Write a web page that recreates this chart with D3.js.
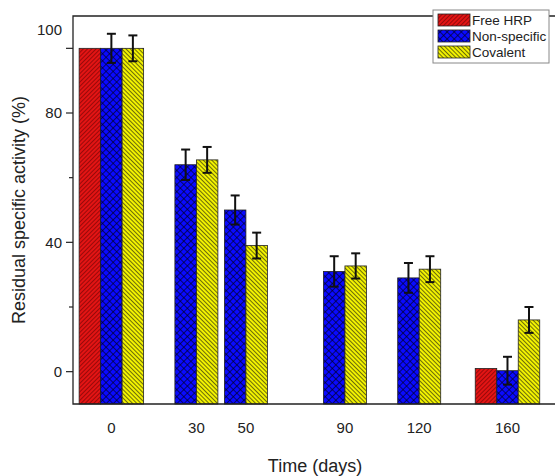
<!DOCTYPE html>
<html lang="en">
<head>
<meta charset="UTF-8">
<title>Residual specific activity</title>
<script src="https://d3js.org/d3.v7.min.js"></script>
<style>
  body { margin: 0; background: #fff; }
  text { font-family: "Liberation Sans", Arial, sans-serif; fill: #222; }
</style>
</head>
<body>
<div id="chart"></div>
<script>
// data
var days = [0, 30, 50, 90, 120, 160];
var seriesNames = ["Free HRP", "Non-specific", "Covalent"];
var freeHRP = [100, null, null, null, null, 1];
var nonSpecific = [100, 64, 50, 31, 29, 0.3];
var covalent = [100, 65.5, 39, 32.7, 31.7, 16];
var freeHRPErr = [0, 0, 0, 0, 0, 0];
var nonSpecificErr = [4.5, 4.7, 4.5, 4.7, 4.6, 4.3];
var covalentErr = [4, 4, 4, 3.9, 4, 4];
var yTickValues = [0, 20, 40, 60, 80, 100];
var yLabelValues = [0, 40, 80, 100];

var width = 555, height = 476;
var plotL = 73, plotT = 16, plotR = 557, plotB = 404;
var barW = 21.5;

var svg = d3.select("#chart").append("svg")
    .attr("width", width)
    .attr("height", height);

var defs = svg.append("defs");

function hatch(id, fill, stroke, size, sw, angle, cross) {
    var p = defs.append("pattern")
        .attr("id", id)
        .attr("patternUnits", "userSpaceOnUse")
        .attr("width", size)
        .attr("height", size)
        .attr("patternTransform", "rotate(" + angle + ")");
    p.append("rect").attr("width", size).attr("height", size).attr("fill", fill);
    p.append("line").attr("x1", 0).attr("y1", 0).attr("x2", 0).attr("y2", size)
        .attr("stroke", stroke).attr("stroke-width", sw);
    if (cross) {
        p.append("line").attr("x1", 0).attr("y1", 0).attr("x2", size).attr("y2", 0)
            .attr("stroke", stroke).attr("stroke-width", sw);
    }
}
hatch("pRed", "#e31414", "#5a0000", 3, 1.1, 45, false);
hatch("pBlue", "#0a0aff", "#000020", 5, 1.3, 45, true);
hatch("pYellow", "#f2f200", "#111", 3, 1.2, -45, false);
var fills = ["url(#pRed)", "url(#pBlue)", "url(#pYellow)"];

var x = d3.scaleLinear().domain([-15.5, 180]).range([plotL, plotR]);
var y = d3.scaleLinear().domain([-10, 110]).range([plotB, plotT]);

var values = [freeHRP, nonSpecific, covalent];
var errors = [freeHRPErr, nonSpecificErr, covalentErr];

// bars
var bars = [];
days.forEach(function (d, gi) {
    values.forEach(function (vals, si) {
        if (vals[gi] == null) return;
        bars.push({ day: d, s: si, v: vals[gi], e: errors[si][gi] });
    });
});

function barX(b) { return x(b.day) + (b.s - 1) * barW - barW / 2; }

svg.append("g").selectAll("rect")
    .data(bars)
    .enter().append("rect")
    .attr("x", barX)
    .attr("y", function (b) { return y(b.v); })
    .attr("width", barW)
    .attr("height", function (b) { return plotB - y(b.v); })
    .attr("fill", function (b) { return fills[b.s]; })
    .attr("stroke", "#222")
    .attr("stroke-width", 0.8);

// error bars
var eb = svg.append("g").attr("stroke", "#111").attr("stroke-width", 2);
bars.filter(function (b) { return b.e > 0; }).forEach(function (b) {
    var cx = barX(b) + barW / 2;
    eb.append("line").attr("x1", cx).attr("x2", cx)
        .attr("y1", y(b.v + b.e)).attr("y2", y(b.v - b.e));
    eb.append("line").attr("x1", cx - 4.5).attr("x2", cx + 4.5)
        .attr("y1", y(b.v + b.e)).attr("y2", y(b.v + b.e));
    eb.append("line").attr("x1", cx - 4.5).attr("x2", cx + 4.5)
        .attr("y1", y(b.v - b.e)).attr("y2", y(b.v - b.e));
});

// frame
svg.append("path")
    .attr("d", "M" + plotR + "," + plotT + "H" + plotL + "V" + plotB + "H" + plotR)
    .attr("fill", "none")
    .attr("stroke", "#222")
    .attr("stroke-width", 1.3);

// y axis ticks
var yAxis = svg.append("g");
yAxis.selectAll("line")
    .data(yTickValues)
    .enter().append("line")
    .attr("x1", function (d) { return yLabelValues.indexOf(d) >= 0 ? plotL - 7 : plotL - 4; })
    .attr("x2", plotL)
    .attr("y1", function (d) { return y(d); })
    .attr("y2", function (d) { return y(d); })
    .attr("stroke", "#222")
    .attr("stroke-width", 1.2);
yAxis.selectAll("text")
    .data(yLabelValues)
    .enter().append("text")
    .attr("x", plotL - 11)
    .attr("y", function (d) { return y(d); })
    .attr("dy", function (d) { return d === 100 ? "-0.9em" : "0.35em"; })
    .attr("text-anchor", "end")
    .style("font-size", "15px")
    .text(function (d) { return d; });

// x labels, centred under the bars that are drawn
svg.append("g").selectAll("text")
    .data(days)
    .enter().append("text")
    .attr("x", function (d) {
        var cs = bars.filter(function (b) { return b.day === d; })
            .map(function (b) { return barX(b) + barW / 2; });
        return d3.mean(cs);
    })
    .attr("y", 433)
    .attr("text-anchor", "middle")
    .style("font-size", "15px")
    .text(function (d) { return d; });

// axis titles
svg.append("text")
    .attr("x", (plotL + plotR) / 2)
    .attr("y", 472)
    .attr("text-anchor", "middle")
    .style("font-size", "18px")
    .text("Time (days)");

svg.append("text")
    .attr("transform", "rotate(-90)")
    .attr("x", -(plotT + plotB) / 2)
    .attr("y", 25)
    .attr("text-anchor", "middle")
    .style("font-size", "18px")
    .text("Residual specific activity (%)");

// legend
var lg = svg.append("g").attr("transform", "translate(433,10)");
lg.append("rect")
    .attr("width", 116).attr("height", 53)
    .attr("fill", "#fff").attr("stroke", "#888").attr("stroke-width", 1);
seriesNames.forEach(function (n, i) {
    lg.append("rect")
        .attr("x", 5).attr("y", 4 + i * 16)
        .attr("width", 32).attr("height", 12)
        .attr("fill", fills[i]).attr("stroke", "#222").attr("stroke-width", 0.8);
    lg.append("text")
        .attr("x", 39).attr("y", 10 + i * 16)
        .attr("dy", "0.35em")
        .style("font-size", "13.5px")
        .text(n);
});
</script>
</body>
</html>
